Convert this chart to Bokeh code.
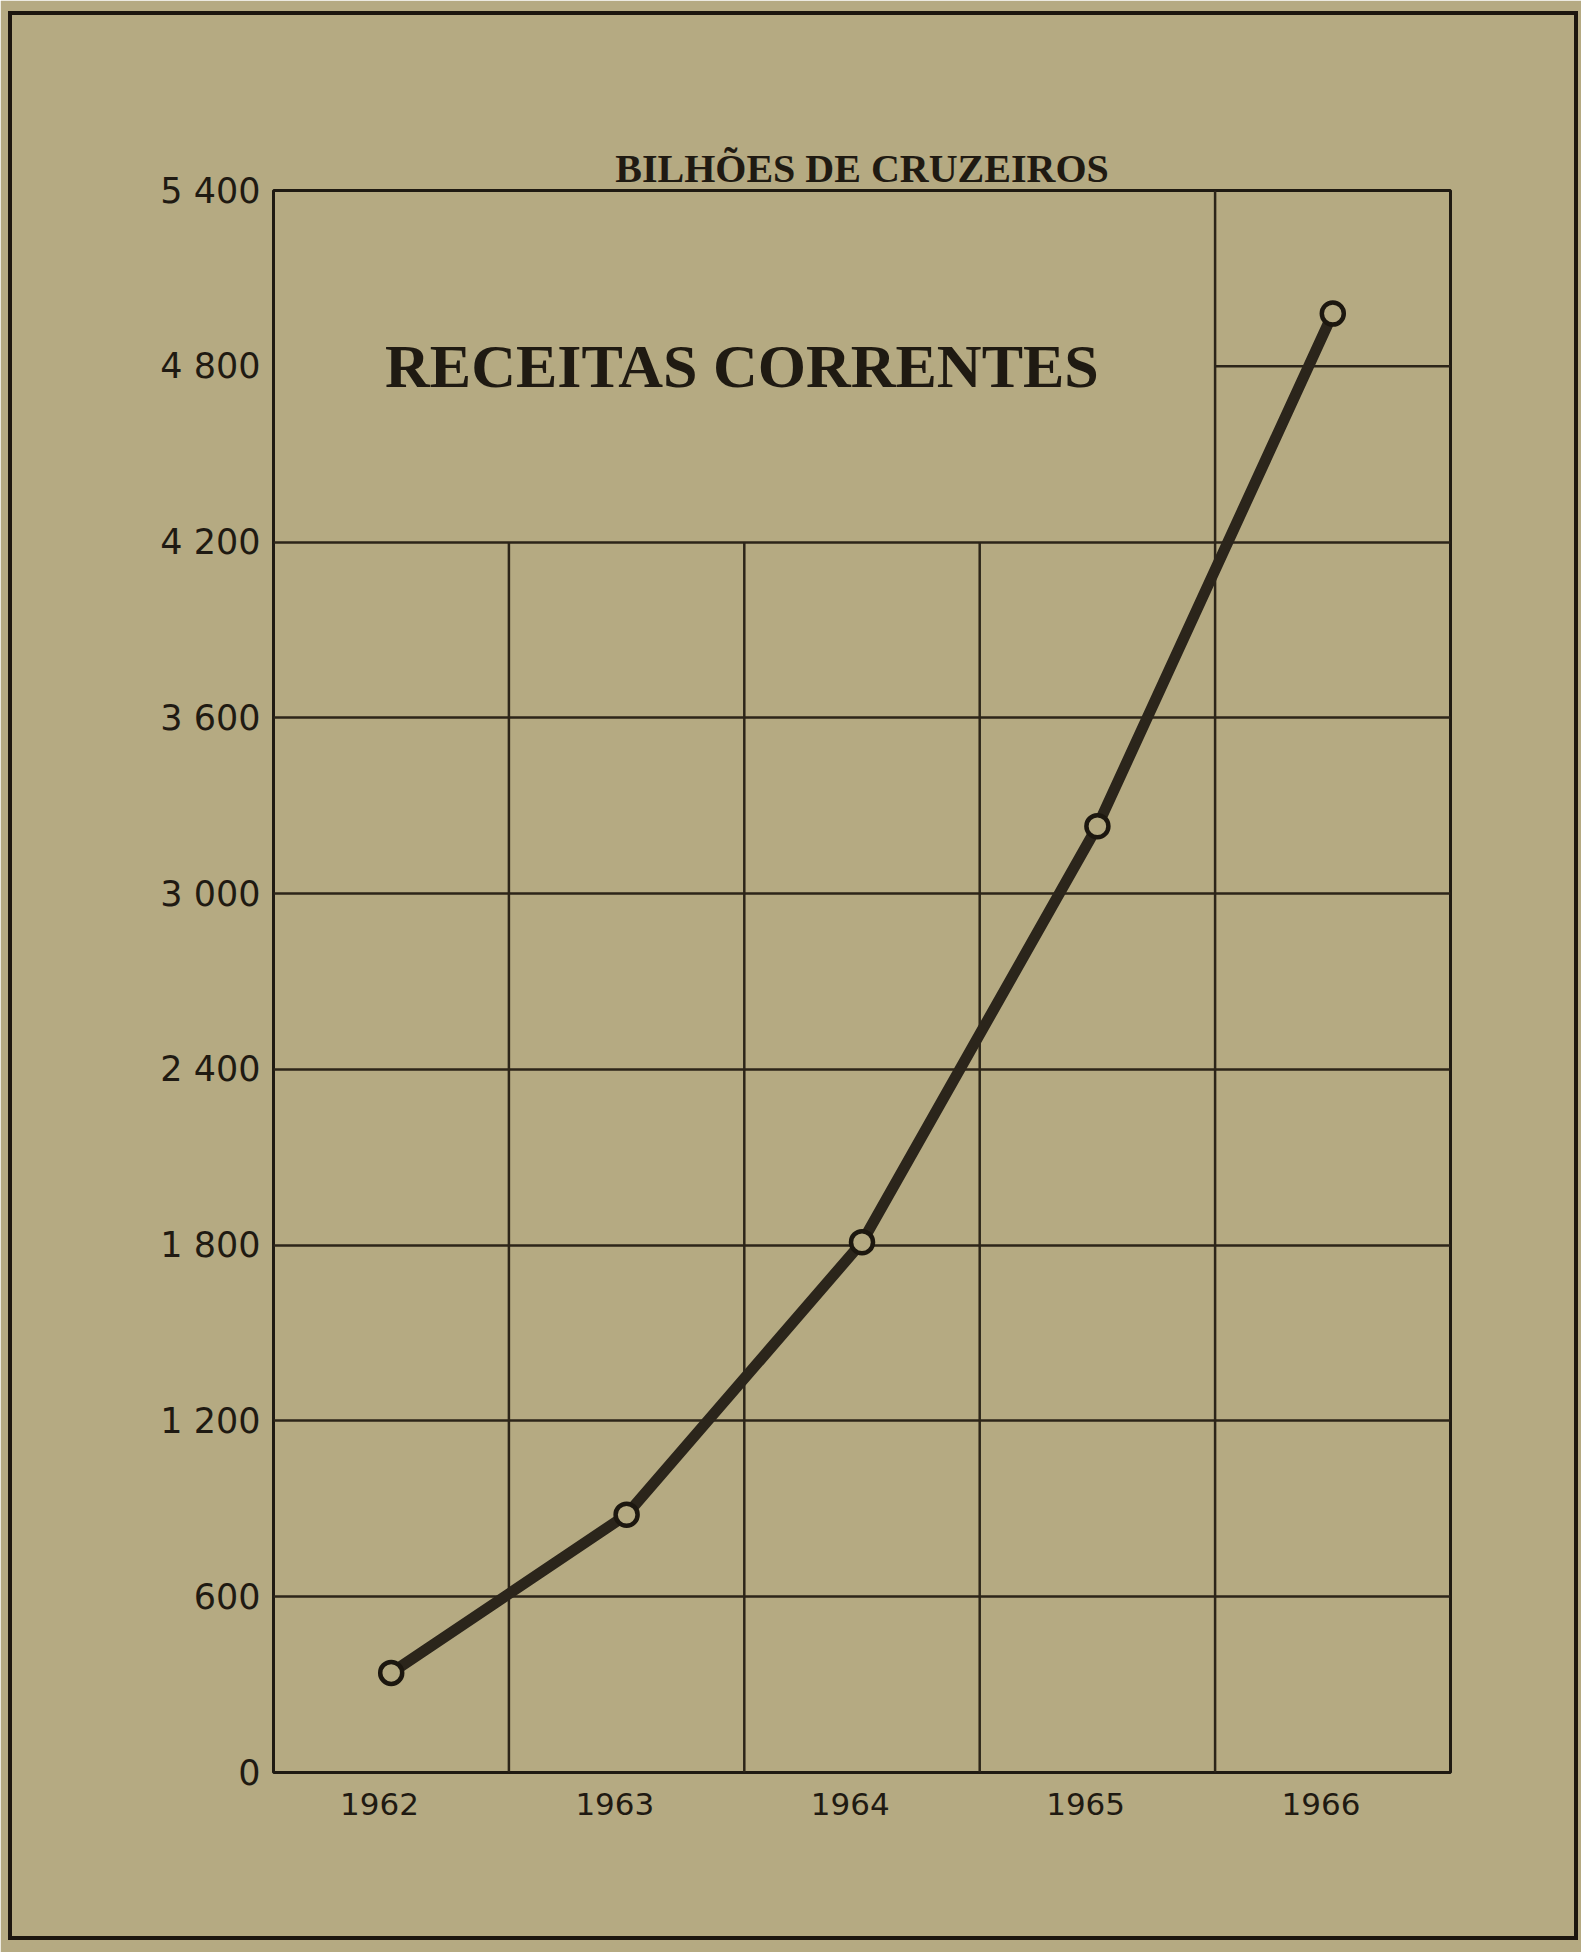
from bokeh.plotting import figure
from bokeh.models import Range1d, FixedTicker, Label, InlineStyleSheet
from bokeh.embed import file_html
from bokeh.resources import INLINE

# ---- data ----
years = ["1962", "1963", "1964", "1965", "1966"]
receitas = [340, 880, 1810, 3230, 4980]          # bilhões de cruzeiros
y_ticks = [0, 600, 1200, 1800, 2400, 3000, 3600, 4200, 4800, 5400]
y_tick_labels = ["0", "600", "1 200", "1 800", "2 400", "3 000",
                 "3 600", "4 200", "4 800", "5 400"]
title_text = "RECEITAS CORRENTES"
unit_text = "BILHÕES DE CRUZEIROS"

# ---- style ----
BG = "#b5aa82"
INK = "#1f1a12"
GRID = "#2c2519"
CURVE = "#2b251b"

x_idx = list(range(len(years)))

p = figure(width=1581, height=1952,
           x_range=Range1d(-0.5, len(years) - 0.5),
           y_range=Range1d(y_ticks[0], y_ticks[-1]),
           output_backend="svg", toolbar_location=None,
           min_border_left=273, min_border_right=131,
           min_border_top=190, min_border_bottom=180)

p.background_fill_color = BG
p.border_fill_color = BG
p.outline_line_color = INK
p.outline_line_width = 3

# page frame drawn around the whole sheet
p.stylesheets = [InlineStyleSheet(css=(
    ":host{position:relative;}"
    ":host::after{content:'';position:absolute;left:8px;top:11px;"
    "width:1562px;height:1921px;border:4px solid #1c160f;"
    "pointer-events:none;z-index:10;}"))]

# title above the frame: unit
p.title.text = unit_text
p.title.align = "center"
p.title.offset = 11
p.title.standoff = 0
p.title.text_font = "Liberation Serif"
p.title.text_font_style = "bold"
p.title.text_font_size = "40px"
p.title.text_color = INK

# grid: horizontal lines up to 4200 over the whole width
p.xgrid.visible = False
p.ygrid.ticker = FixedTicker(ticks=[t for t in y_ticks if 0 < t <= 4200])
p.ygrid.grid_line_color = GRID
p.ygrid.grid_line_width = 2.5
p.ygrid.grid_line_alpha = 1.0

# column dividers between the years
bounds = [i + 0.5 for i in x_idx[:-1]]
tops = [4200, 4200, 4200, y_ticks[-1]]
p.segment(x0=bounds, y0=[0] * len(bounds), x1=bounds, y1=tops,
          line_color=GRID, line_width=2.5)
# extra 4 800 line in the last column
p.segment(x0=[x_idx[-1] - 0.5], y0=[4800], x1=[x_idx[-1] + 0.5], y1=[4800],
          line_color=GRID, line_width=2.5)

# axes (year labels sit a little left of the column centres, as printed)
label_pos = [round(i - 0.05, 2) for i in x_idx]
p.yaxis.ticker = FixedTicker(ticks=y_ticks)
p.yaxis.major_label_overrides = dict(zip(y_ticks, y_tick_labels))
p.xaxis.ticker = FixedTicker(ticks=label_pos)
p.xaxis.major_label_overrides = dict(zip(label_pos, years))
for ax in (p.xaxis[0], p.yaxis[0]):
    ax.axis_line_color = None
    ax.major_tick_line_color = None
    ax.minor_tick_line_color = None
    ax.major_label_text_font = "DejaVu Sans"
    ax.major_label_text_color = INK
p.yaxis.major_label_standoff = 7
p.xaxis.major_label_standoff = 14
p.yaxis.major_label_text_font_size = "35px"
p.xaxis.major_label_text_font_size = "31px"

# series
p.line(x_idx, receitas, line_width=11, line_color=CURVE,
       line_join="round", line_cap="round")
p.scatter(x_idx, receitas, marker="circle", size=22, fill_color=BG,
          line_color="#1c170f", line_width=4.5)

# main heading inside the chart
p.add_layout(Label(x=1.49, y=4800, text=title_text, text_align="center",
                   text_baseline="alphabetic", text_font="Liberation Serif",
                   text_font_style="bold", text_font_size="62px",
                   text_color=INK))

open("out.html", "w").write(file_html(p, INLINE))
